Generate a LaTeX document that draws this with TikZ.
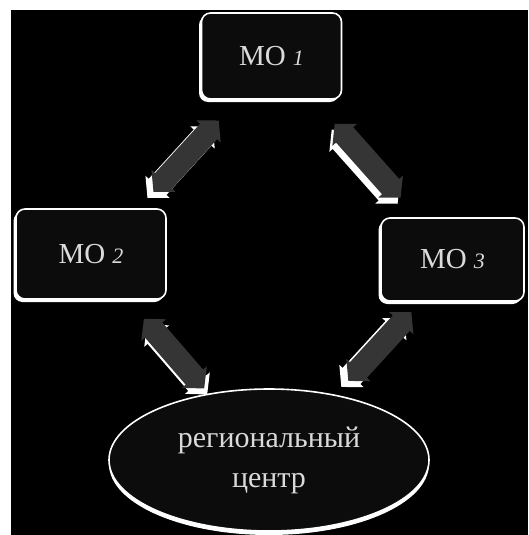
\documentclass[tikz,border=0pt]{standalone}
\usepackage{fontspec}
\setmainfont{Liberation Serif}
\usetikzlibrary{arrows.meta, shapes.geometric, shadows}

\definecolor{boxdark}{HTML}{0C0C0C}
\definecolor{arrowgray}{HTML}{353535}
\definecolor{textgray}{HTML}{DADADA}

\begin{document}
\begin{tikzpicture}[x=1pt, y=-1pt,
    >={Triangle[length=15pt, width=32pt]},
    mobox/.style={rectangle, rounded corners=9pt, draw=white, line width=1.6pt,
        fill=boxdark, text=textgray, font=\fontsize{29}{30}\selectfont,
        drop shadow={fill=white, opacity=1, shadow xshift=-2.5pt, shadow yshift=-3pt}},
    hub/.style={ellipse, draw=white, line width=1.6pt, fill=boxdark, text=textgray,
        align=center, inner sep=0pt, font=\fontsize{30}{40}\selectfont,
        drop shadow={fill=white, opacity=1, shadow xshift=0pt, shadow yshift=-4pt}},
    twoway/.style={<->, draw=arrowgray, line width=23pt,
        preaction={draw=white, line width=24pt, transform canvas={yshift=-6pt}}}]
    \useasboundingbox (0,0) rectangle (528,535);
    \fill[black] (11,10) rectangle (528,535);

    \node[mobox, minimum width=140pt, minimum height=86pt] (mo1) at (271.5,56) {МО \textit{\fontsize{22}{22}\selectfont 1}};
    \node[mobox, minimum width=150pt, minimum height=90pt] (mo2) at (91,254) {МО \textit{\fontsize{22}{22}\selectfont 2}};
    \node[mobox, minimum width=143pt, minimum height=83pt] (mo3) at (452.5,259.5) {МО \textit{\fontsize{22}{22}\selectfont 3}};
    \node[hub, minimum width=320pt, minimum height=142pt] (center) at (269,460) {региональный\\центр};

    \draw[twoway, shorten <=28pt, shorten >=22pt, transform canvas={xshift=6pt}] (mo1) -- (mo2);
    \draw[twoway, shorten <=32pt, shorten >=26pt, transform canvas={xshift=3pt}] (mo1) -- (mo3);
    \draw[twoway, shorten <=25pt, shorten >=6pt, transform canvas={xshift=-3pt}] (mo2) -- (center);
    \draw[twoway, shorten <=14pt, shorten >=17pt, transform canvas={xshift=7pt}] (mo3) -- (center);
\end{tikzpicture}
\end{document}
